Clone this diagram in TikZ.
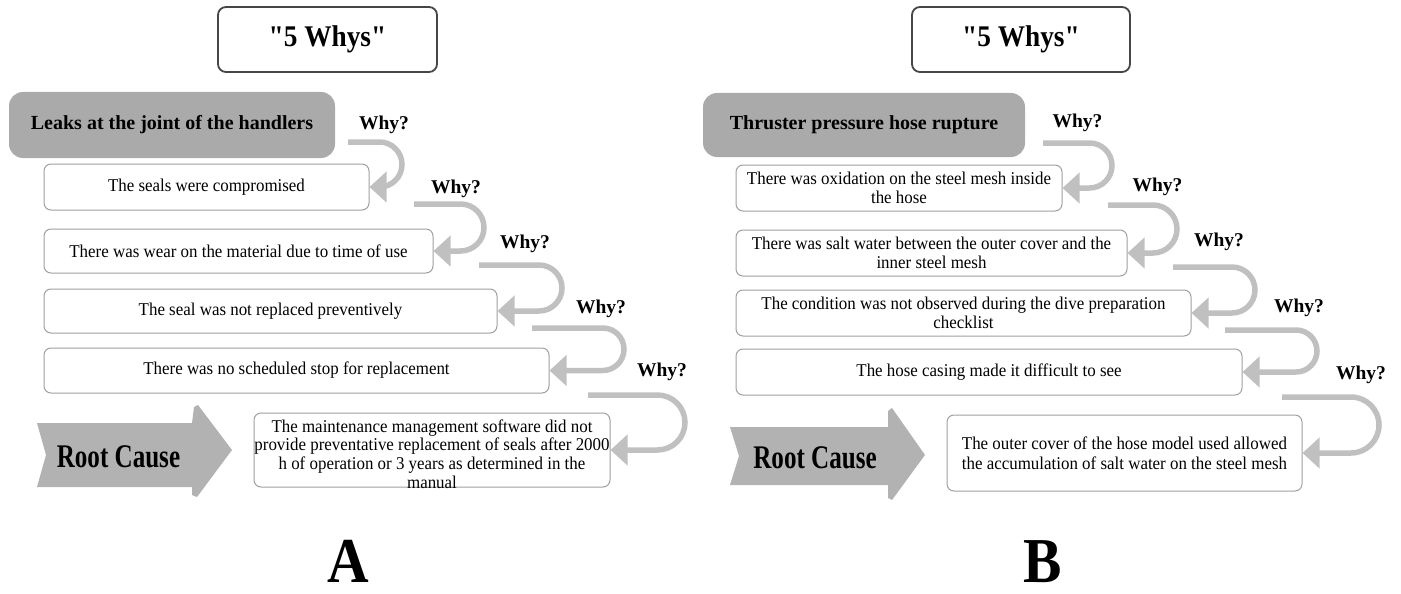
\documentclass[tikz,border=0pt]{standalone}
\usepackage{fontspec}
\setmainfont{Liberation Serif}
\newfontfamily\bodyfont[FakeStretch=0.94]{Liberation Serif}
\newfontfamily\titlefont[FakeStretch=0.91,Ligatures=TeXOff]{Liberation Serif}
\newfontfamily\rcfont[FakeStretch=0.76]{Liberation Serif}
\newfontfamily\panelfont[FakeStretch=0.9]{Liberation Serif}
\usetikzlibrary{arrows.meta}
\definecolor{boxgray}{RGB}{170,170,170}
\definecolor{rcgray}{RGB}{178,178,178}
\definecolor{arrowgray}{RGB}{192,192,192}
\definecolor{edgegray}{RGB}{160,160,160}
\definecolor{titleedge}{RGB}{70,70,70}
\begin{document}
\begin{tikzpicture}[x=1pt,y=1pt,
  titlebox/.style={draw=titleedge, line width=1.8pt, rounded corners=8pt, fill=white, inner sep=0pt, font=\titlefont\fontsize{30}{32}\selectfont\bfseries},
  problembox/.style={fill=boxgray, rounded corners=14pt, inner sep=0pt, font=\fontsize{20}{22}\selectfont\bfseries},
  whybox/.style={draw=edgegray, line width=1pt, rounded corners=7pt, fill=white, inner sep=0pt, align=center, font=\bodyfont\fontsize{18}{19.5}\selectfont},
  roottext/.style={inner sep=0pt, align=center, font=\bodyfont\fontsize{18}{18.7}\selectfont},
  whylabel/.style={anchor=base, inner sep=0pt, font=\fontsize{19.5}{22}\selectfont\bfseries},
  whyarrow/.style={draw=arrowgray, line width=5.5pt, -{Triangle[width=30pt,length=17pt]}},
  rclabel/.style={inner sep=0pt, font=\rcfont\fontsize{33}{36}\selectfont\bfseries},
  rcshape/.style={fill=rcgray},
  panel/.style={anchor=base, inner sep=0pt, text depth=0pt, font=\panelfont\fontsize{64}{68}\selectfont\bfseries}
]
\useasboundingbox (0,0) rectangle (1401,-594);

% ---------------- Panel A ----------------
\node[titlebox, minimum width=219pt, minimum height=65pt] (titleA) at (327.5,-39.5) {"5 Whys"};
\node[problembox, minimum width=326pt, minimum height=66pt] (pA) at (172,-125) {Leaks at the joint of the handlers};
\node[whybox, minimum width=325pt, minimum height=46pt] (bA1) at (206.5,-187) {The seals were compromised};
\node[whybox, minimum width=389pt, minimum height=44pt] (bA2) at (238.5,-251) {There was wear on the material due to time of use};
\node[whybox, minimum width=453pt, minimum height=44pt] (bA3) at (270.5,-311) {The seal was not replaced preventively};
\node[whybox, minimum width=505pt, minimum height=45pt] (bA4) at (296.5,-370.5) {There was no scheduled stop for replacement};
\node[whybox, minimum width=356pt, minimum height=74pt] (rA) at (432,-450) {};
\node[roottext] (rAt) at (432,-454) {The maintenance management software did not\\provide preventative replacement of seals after 2000\\h of operation or 3 years as determined in the\\manual};

\node[whylabel] (wA1) at (384,-129) {Why?};
\node[whylabel] (wA2) at (456,-193) {Why?};
\node[whylabel] (wA3) at (525,-248) {Why?};
\node[whylabel] (wA4) at (601,-313) {Why?};
\node[whylabel] (wA5) at (662,-376) {Why?};

\coordinate (sA1) at (348,-142);
\coordinate (sA2) at (414,-204);
\coordinate (sA3) at (479,-265);
\coordinate (sA4) at (532,-328);
\coordinate (sA5) at (588,-395);
\draw[whyarrow] (sA1) -- (379.5,-142) arc[start angle=90,end angle=-90,radius=22.5] -- (bA1.east);
\draw[whyarrow] (sA2) -- (460.5,-204) arc[start angle=90,end angle=-90,radius=23.5] -- (bA2.east);
\draw[whyarrow] (sA3) -- (539,-265) arc[start angle=90,end angle=-90,radius=23] -- (bA3.east);
\draw[whyarrow] (sA4) -- (602.75,-328) arc[start angle=90,end angle=-90,radius=21.25] -- (bA4.east);
\draw[whyarrow] (sA5) -- (657.5,-395) arc[start angle=90,end angle=-90,radius=27.5] -- (rA.east);

\fill[rcshape] (37,-423) -- (192,-423) -- (194,-407) -- (198,-405) -- (232,-450) -- (197,-497) -- (192,-495) -- (192,-487) -- (37,-487) -- (46,-455) -- cycle;
\node[rclabel] (rcA) at (118.5,-457) {Root Cause};

\node[panel] (lblA) at (348,-582) {A};

% ---------------- Panel B ----------------
\node[titlebox, minimum width=218pt, minimum height=65pt] (titleB) at (1021,-39.5) {"5 Whys"};
\node[problembox, minimum width=322pt, minimum height=64pt] (pB) at (864,-125) {Thruster pressure hose rupture};
\node[whybox, minimum width=326pt, minimum height=46pt] (bB1) at (899,-188) {There was oxidation on the steel mesh inside\\the hose};
\node[whybox, minimum width=391pt, minimum height=46pt] (bB2) at (931.5,-253) {There was salt water between the outer cover and the\\inner steel mesh};
\node[whybox, minimum width=455pt, minimum height=46pt] (bB3) at (963.5,-313) {The condition was not observed during the dive preparation\\checklist};
\node[whybox, minimum width=506pt, minimum height=46pt] (bB4) at (989,-372) {The hose casing made it difficult to see};
\node[whybox, minimum width=355pt, minimum height=76pt] (rB) at (1124.5,-453) {The outer cover of the hose model used allowed\\the accumulation of salt water on the steel mesh};

\node[whylabel] (wB1) at (1077.5,-127) {Why?};
\node[whylabel] (wB2) at (1157.5,-191) {Why?};
\node[whylabel] (wB3) at (1219,-246) {Why?};
\node[whylabel] (wB4) at (1299,-312) {Why?};
\node[whylabel] (wB5) at (1361,-379) {Why?};

\coordinate (sB1) at (1043,-143);
\coordinate (sB2) at (1108,-205);
\coordinate (sB3) at (1173,-267);
\coordinate (sB4) at (1225,-330);
\coordinate (sB5) at (1282,-397);
\draw[whyarrow] (sB1) -- (1089.5,-143) arc[start angle=90,end angle=-90,radius=22.5] -- (bB1.east);
\draw[whyarrow] (sB2) -- (1153,-205) arc[start angle=90,end angle=-90,radius=24] -- (bB2.east);
\draw[whyarrow] (sB3) -- (1232,-267) arc[start angle=90,end angle=-90,radius=23] -- (bB3.east);
\draw[whyarrow] (sB4) -- (1296,-330) arc[start angle=90,end angle=-90,radius=21] -- (bB4.east);
\draw[whyarrow] (sB5) -- (1351,-397) arc[start angle=90,end angle=-90,radius=28] -- (rB.east);

\fill[rcshape] (730,-427) -- (888,-427) -- (888,-411) -- (892,-408) -- (925,-455) -- (892,-500) -- (888,-498) -- (888,-485) -- (730,-485) -- (739,-456) -- cycle;
\node[rclabel] (rcB) at (815,-458) {Root Cause};

\node[panel] (lblB) at (1043,-582) {B};
\end{tikzpicture}
\end{document}
